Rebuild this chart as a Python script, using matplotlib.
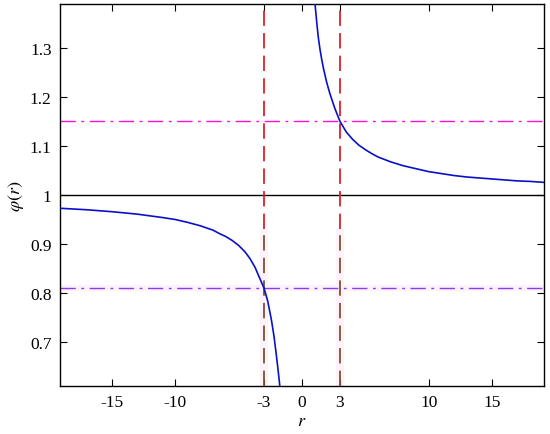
import matplotlib
matplotlib.use("Agg")
from matplotlib import pyplot as plt

# values
r_neg = [-19.1, -17, -15, -13, -11, -10, -9, -8, -7, -6.5, -6, -5.5, -5, -4.5, -4.1,
         -3.7, -3.37, -3.0, -2.7, -2.4, -2.2, -2.0, -1.85, -1.7]
phi_neg = [0.973, 0.970, 0.966, 0.961, 0.954, 0.950, 0.944, 0.937, 0.928, 0.921,
           0.915, 0.907, 0.897, 0.884, 0.870, 0.852, 0.832, 0.810, 0.783, 0.743,
           0.710, 0.668, 0.634, 0.598]
r_pos = [1.0, 1.1, 1.2, 1.3, 1.42, 1.55, 1.7, 1.95, 2.2, 2.6, 3.0, 3.5, 4.0, 4.5,
         5.0, 5.5, 6.0, 7.0, 8.0, 9.0, 10, 11, 12, 13, 14, 15, 16, 17, 18, 19.1]
phi_pos = [1.400, 1.372, 1.345, 1.321, 1.299, 1.279, 1.259, 1.231, 1.208, 1.177,
           1.151, 1.129, 1.114, 1.102, 1.093, 1.085, 1.078, 1.068, 1.060, 1.054,
           1.048, 1.044, 1.040, 1.037, 1.035, 1.033, 1.031, 1.029, 1.028, 1.026]
r_marks = [-3, 3]
phi_upper = 1.151
phi_lower = 0.810
xticks = [-15, -10, -3, 0, 3, 10, 15]
yticks = [0.7, 0.8, 0.9, 1.0, 1.1, 1.2, 1.3]
ytick_labels = ['0.7', '0.8', '0.9', '1', '1.1', '1.2', '1.3']

plt.rcParams['font.family'] = ['Liberation Serif', 'DejaVu Serif']
plt.rcParams['mathtext.fontset'] = 'stix'
plt.rcParams['font.size'] = 12

fig = plt.figure(figsize=(5.5, 4.35), dpi=100)
ax = fig.add_axes([0.109, 0.110, 0.880, 0.8785])
xmin, xmax = -19.1, 19.1
ymin, ymax = 0.609, 1.391

# faint pink halos
for rm in r_marks:
    ax.plot([rm, rm], [ymin, 0.93], color='#fdf1fa', lw=6, zorder=1, solid_capstyle='butt')
ax.plot([xmin, xmax], [phi_lower, phi_lower], color='#fdf1fa', lw=4.5, zorder=1)

ax.axhline(1.0, color='black', lw=1.0, zorder=2)
ax.axhline(phi_upper, color='#ff10d0', lw=1.0, dashes=(11, 4, 2, 4), zorder=2)
ax.axhline(phi_lower, color='#8a3cf0', lw=1.0, dashes=(11, 4, 2, 4), zorder=2)

for rm in r_marks:
    ax.plot([rm, rm], [0.93, ymax], color='#dd1f2a', lw=1.3, dashes=(8.5, 4), zorder=3)
    ax.plot([rm, rm], [ymin, 0.93], color='#7b5230', lw=1.3, dashes=(8.5, 4), zorder=3)

ax.plot(r_neg, phi_neg, color='#0a10c8', lw=1.2, zorder=4)
ax.plot(r_pos, phi_pos, color='#0a10c8', lw=1.2, zorder=4)

ax.set_xlim(xmin, xmax)
ax.set_ylim(ymin, ymax)
ax.set_xticks(xticks)
ax.set_xticklabels([str(t) for t in xticks])
ax.set_yticks(yticks)
ax.set_yticklabels(ytick_labels)
ax.tick_params(direction='in', top=True, right=True, length=5, width=0.8, labelsize=12.5, pad=6)
for s in ax.spines.values():
    s.set_linewidth(1.0)
ax.set_xlabel('$r$', fontsize=13, labelpad=1)
ax.set_ylabel(r'$\varphi(r)$', fontsize=13, labelpad=3)

plt.savefig('out.png', dpi=100)
